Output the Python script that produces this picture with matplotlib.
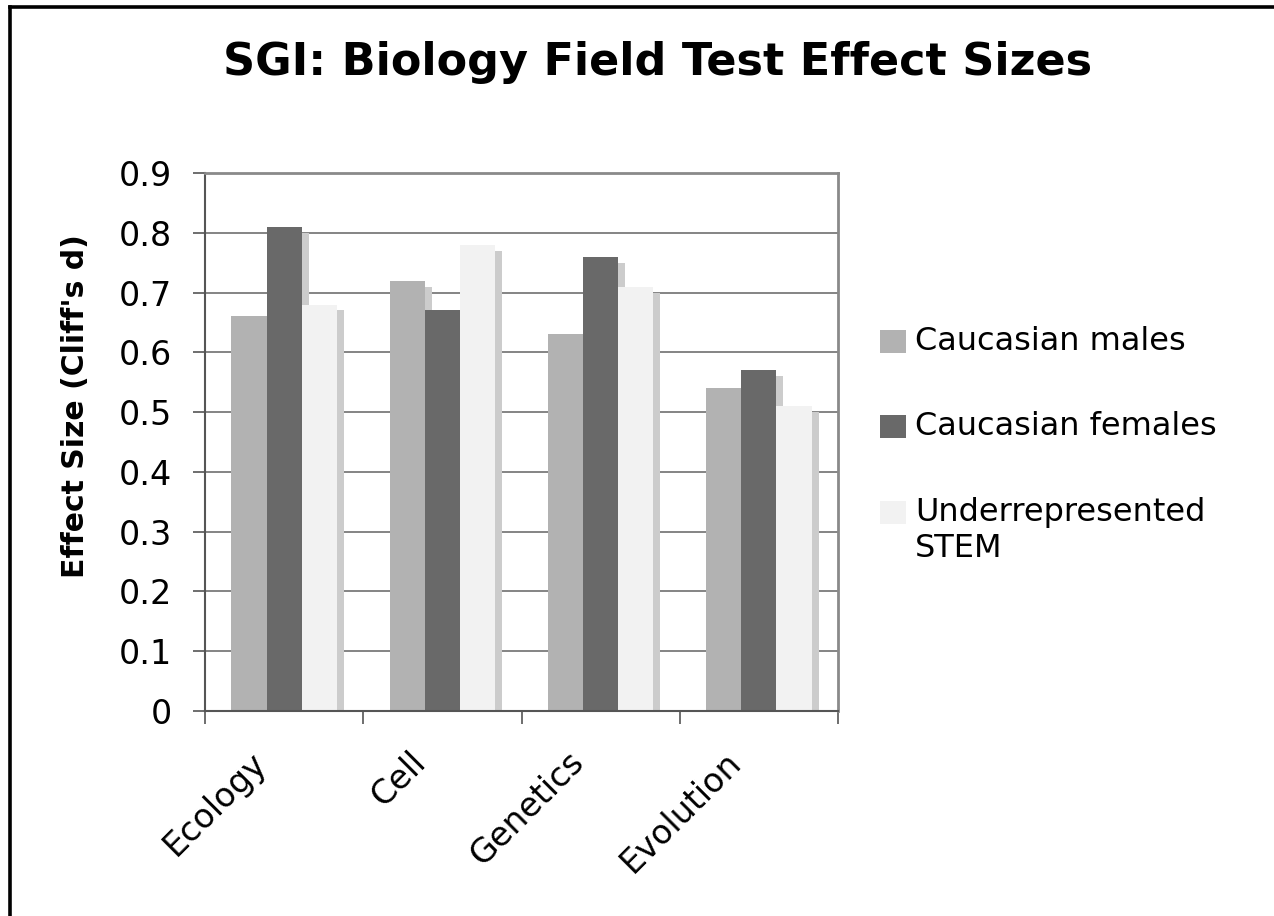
import matplotlib
matplotlib.use("Agg")
import matplotlib.pyplot as plt
from matplotlib.lines import Line2D
from matplotlib.patches import Rectangle
from matplotlib.transforms import ScaledTranslation
import numpy as np

categories = ["Ecology", "Cell", "Genetics", "Evolution"]
series_names = ["Caucasian males", "Caucasian females", "Underrepresented\nSTEM"]
caucasian_males = [0.66, 0.72, 0.63, 0.54]
caucasian_females = [0.81, 0.67, 0.76, 0.57]
underrepresented_stem = [0.68, 0.78, 0.71, 0.51]
series_values = [caucasian_males, caucasian_females, underrepresented_stem]
colors = ["#b2b2b2", "#696969", "#f2f2f2"]
shadow_color = "#cccccc"
yticks = [0, 0.1, 0.2, 0.3, 0.4, 0.5, 0.6, 0.7, 0.8, 0.9]
ytick_labels = ["0", "0.1", "0.2", "0.3", "0.4", "0.5", "0.6", "0.7", "0.8", "0.9"]

plt.rcParams['font.family'] = ['DejaVu Sans']

W, H = 1274, 916
fig = plt.figure(figsize=(W / 100, H / 100), dpi=100)
ax = fig.add_axes([205 / W, 1 - 711 / H, (838 - 205) / W, (711 - 173) / H])

x = np.arange(len(categories)) + 0.5
bw = 0.222
sx, sy = 0.044, 0.01
for i, vals in enumerate(series_values):
    pos = x + (i - 1) * bw
    ax.bar(pos + sx, [v - sy for v in vals], width=bw, color=shadow_color,
           zorder=1, linewidth=0)
for i, vals in enumerate(series_values):
    pos = x + (i - 1) * bw
    ax.bar(pos, vals, width=bw, color=colors[i], zorder=2, linewidth=0)

ax.set_xlim(0, 4)
ax.set_ylim(0, 0.9)
ax.set_yticks(yticks)
ax.set_yticklabels(ytick_labels, fontsize=24)
for yv in yticks[1:-1]:
    ax.axhline(yv, color="#707070", lw=1.2, zorder=0)

ax.set_xticks(x)
ax.set_xticklabels(categories, fontsize=24, rotation=45, ha="right",
                   va="top", rotation_mode="anchor")
ax.tick_params(axis="x", which="major", length=0, pad=25)
shift = ScaledTranslation(-34 / 100, 0, fig.dpi_scale_trans)
for lab in ax.get_xticklabels():
    lab.set_transform(lab.get_transform() + shift)
ax.set_xticks(np.arange(0, 5), minor=True)
ax.tick_params(axis="x", which="minor", length=9, color="#555555", width=1.2,
               direction="out")
ax.tick_params(axis="y", length=9, color="#555555", width=1.2, direction="out",
               pad=15)
for s in ["top", "right"]:
    ax.spines[s].set_color("#8a8a8a")
    ax.spines[s].set_linewidth(2)
for s in ["left", "bottom"]:
    ax.spines[s].set_color("#555555")
    ax.spines[s].set_linewidth(1.5)

fig.text(658 / W, 1 - 62 / H, "SGI: Biology Field Test Effect Sizes",
         ha="center", va="center", fontsize=32, fontweight="bold")
fig.text(76 / W, 1 - 406 / H, "Effect Size (Cliff's d)", rotation=90,
         ha="center", va="center", fontsize=21.5, fontweight="bold")

# legend
leg_y = [342, 427, 513]
for name, c, yy in zip(series_names, colors, leg_y):
    fig.patches.append(Rectangle((880 / W, 1 - (yy + 11) / H), 26 / W, 23 / H,
                                 transform=fig.transFigure, facecolor=c,
                                 edgecolor="none"))
    fig.text(915 / W, 1 - (yy - 16) / H, name, ha="left", va="top",
             fontsize=23, linespacing=1.2)

# outer border (left and top)
fig.add_artist(Line2D([9.5 / W, 9.5 / W], [0, 1 - 7 / H], color="black",
                      lw=2.6, transform=fig.transFigure, solid_capstyle="projecting"))
fig.add_artist(Line2D([9.5 / W, 1], [1 - 7 / H, 1 - 7 / H], color="black",
                      lw=2.6, transform=fig.transFigure, solid_capstyle="projecting"))

fig.savefig("out.png", dpi=100)
